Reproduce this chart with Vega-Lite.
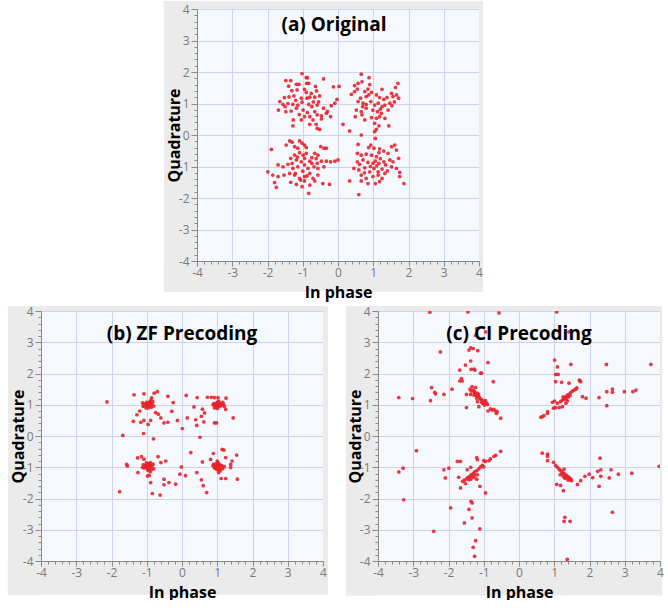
{
"$schema": "https://vega.github.io/schema/vega-lite/v6.json",
"background": "white",
"padding": {"left": 7, "top": 1, "right": 0, "bottom": 0},
"spacing": 5,
"datasets": {
"orig": [
{"x":-1.02,"y":1.95},{"x":-0.9,"y":1.82},{"x":-0.87,"y":1.82},{"x":-1.48,"y":1.73},{"x":-1.34,"y":1.73},{"x":-0.41,"y":1.78},{"x":-1.18,"y":1.61},{"x":-1.11,"y":1.61},{"x":-0.89,"y":1.64},{"x":-0.83,"y":1.64},{"x":-0.64,"y":1.54},{"x":-0.13,"y":1.53},{"x":0.03,"y":1.54},{"x":-1.31,"y":1.41},{"x":-1.16,"y":1.43},{"x":-0.9,"y":1.35},{"x":-0.76,"y":1.32},{"x":-0.61,"y":1.4},{"x":-1.52,"y":1.19},{"x":-1.39,"y":1.21},{"x":-1.25,"y":1.24},{"x":-1.04,"y":1.17},{"x":-0.88,"y":1.17},{"x":-0.8,"y":1.2},{"x":-0.66,"y":1.2},{"x":-0.52,"y":1.24},{"x":-1.65,"y":1.06},{"x":-1.56,"y":0.97},{"x":-1.42,"y":1.0},{"x":-1.28,"y":0.97},{"x":-1.14,"y":0.95},{"x":-1.02,"y":1.04},{"x":-0.83,"y":0.97},{"x":-0.74,"y":0.9},{"x":-0.59,"y":0.95},{"x":-0.41,"y":0.85},{"x":-0.19,"y":0.93},{"x":-0.03,"y":1.13},{"x":-0.09,"y":1.01},{"x":-1.69,"y":0.79},{"x":-1.48,"y":0.74},{"x":-1.33,"y":0.76},{"x":-1.18,"y":0.85},{"x":-0.99,"y":0.79},{"x":-0.87,"y":0.71},{"x":-0.66,"y":0.74},{"x":-0.95,"y":0.58},{"x":-0.8,"y":0.58},{"x":-0.59,"y":0.64},{"x":-0.47,"y":0.61},{"x":-0.33,"y":0.69},{"x":-0.21,"y":0.58},{"x":-1.27,"y":0.48},{"x":-1.04,"y":0.48},{"x":-0.71,"y":0.48},{"x":-0.8,"y":0.34},{"x":-0.62,"y":0.34},{"x":-0.47,"y":0.51},{"x":-1.28,"y":0.29},{"x":-0.59,"y":0.21},{"x":-0.52,"y":0.18},{"x":-1.2,"y":1.1},{"x":-0.7,"y":1.05},{"x":-0.95,"y":1.45},{"x":-1.4,"y":1.55},{"x":-0.55,"y":1.05},{"x":-1.1,"y":0.65},{"x":-0.3,"y":0.75},{"x":-1.5,"y":0.9},
{"x":0.66,"y":1.93},{"x":0.88,"y":1.82},{"x":0.68,"y":1.69},{"x":0.57,"y":1.64},{"x":0.47,"y":1.57},{"x":1.7,"y":1.64},{"x":1.63,"y":1.51},{"x":0.38,"y":1.29},{"x":0.47,"y":1.38},{"x":0.55,"y":1.46},{"x":0.76,"y":1.38},{"x":0.85,"y":1.46},{"x":0.95,"y":1.35},{"x":0.8,"y":1.22},{"x":0.87,"y":1.27},{"x":0.64,"y":1.17},{"x":1.09,"y":1.27},{"x":1.18,"y":1.19},{"x":1.3,"y":1.13},{"x":1.39,"y":1.19},{"x":1.52,"y":1.32},{"x":1.56,"y":1.22},{"x":1.66,"y":1.27},{"x":1.72,"y":1.17},{"x":0.57,"y":1.06},{"x":0.71,"y":1.01},{"x":0.8,"y":0.97},{"x":0.93,"y":1.06},{"x":1.04,"y":0.95},{"x":1.14,"y":1.01},{"x":1.25,"y":0.9},{"x":1.33,"y":0.95},{"x":1.47,"y":1.01},{"x":1.53,"y":0.93},{"x":1.42,"y":0.79},{"x":0.52,"y":0.79},{"x":0.66,"y":0.74},{"x":0.8,"y":0.85},{"x":0.99,"y":0.79},{"x":1.12,"y":0.74},{"x":1.23,"y":0.69},{"x":0.49,"y":0.58},{"x":0.68,"y":0.64},{"x":0.76,"y":0.48},{"x":0.95,"y":0.55},{"x":1.09,"y":0.53},{"x":1.18,"y":0.58},{"x":1.33,"y":0.53},{"x":1.04,"y":0.37},{"x":1.16,"y":0.29},{"x":1.44,"y":0.29},{"x":1.09,"y":0.18},{"x":1.04,"y":0.11},{"x":0.66,"y":0.0},{"x":0.33,"y":0.13},{"x":0.14,"y":0.34},{"x":1.06,"y":-0.11},{"x":0.9,"y":1.6},{"x":1.25,"y":1.45},{"x":0.7,"y":0.9},{"x":1.6,"y":1.05},{"x":1.2,"y":0.82},
{"x":-1.89,"y":-0.46},{"x":-1.37,"y":-0.19},{"x":-1.3,"y":-0.23},{"x":-1.09,"y":-0.19},{"x":-1.02,"y":-0.26},{"x":-0.95,"y":-0.32},{"x":-0.9,"y":-0.4},{"x":-1.47,"y":-0.32},{"x":-1.23,"y":-0.37},{"x":-1.14,"y":-0.42},{"x":-0.49,"y":-0.37},{"x":-0.4,"y":-0.42},{"x":-0.33,"y":-0.42},{"x":-0.66,"y":-0.58},{"x":-0.57,"y":-0.64},{"x":-0.74,"y":-0.72},{"x":-1.09,"y":-0.56},{"x":-0.99,"y":-0.64},{"x":-0.9,"y":-0.58},{"x":-1.23,"y":-0.64},{"x":-1.34,"y":-0.74},{"x":-1.18,"y":-0.79},{"x":-1.04,"y":-0.85},{"x":-0.95,"y":-0.74},{"x":-0.8,"y":-0.83},{"x":-0.74,"y":-0.9},{"x":-0.59,"y":-0.9},{"x":-0.47,"y":-0.83},{"x":-0.33,"y":-0.83},{"x":-0.21,"y":-0.85},{"x":-0.09,"y":-0.83},{"x":0.0,"y":-0.79},{"x":-1.7,"y":-0.95},{"x":-1.56,"y":-1.01},{"x":-1.42,"y":-0.93},{"x":-1.28,"y":-1.06},{"x":-1.14,"y":-1.01},{"x":-0.95,"y":-0.95},{"x":-0.85,"y":-1.06},{"x":-0.68,"y":-1.01},{"x":-0.57,"y":-1.06},{"x":-0.4,"y":-1.01},{"x":-1.99,"y":-1.17},{"x":-1.85,"y":-1.27},{"x":-1.7,"y":-1.32},{"x":-1.53,"y":-1.27},{"x":-1.37,"y":-1.22},{"x":-1.23,"y":-1.27},{"x":-1.09,"y":-1.38},{"x":-0.95,"y":-1.32},{"x":-0.8,"y":-1.22},{"x":-0.71,"y":-1.38},{"x":-0.57,"y":-1.27},{"x":-1.34,"y":-1.5},{"x":-1.18,"y":-1.57},{"x":-1.06,"y":-1.43},{"x":-0.95,"y":-1.46},{"x":-1.8,"y":-1.51},{"x":-1.75,"y":-1.66},{"x":-0.8,"y":-1.59},{"x":-0.66,"y":-1.46},{"x":-0.43,"y":-1.54},{"x":-0.24,"y":-1.57},{"x":-0.83,"y":-1.85},{"x":-1.02,"y":-1.64},{"x":-1.21,"y":-1.22},{"x":-1.0,"y":-1.15},{"x":-0.62,"y":-0.75},{"x":-1.3,"y":-0.9},{"x":-0.88,"y":-1.3},{"x":-1.15,"y":-0.7},
{"x":0.57,"y":-0.3},{"x":0.87,"y":-0.4},{"x":0.93,"y":-0.32},{"x":1.02,"y":-0.42},{"x":1.18,"y":-0.44},{"x":1.3,"y":-0.51},{"x":1.52,"y":-0.37},{"x":1.61,"y":-0.32},{"x":1.66,"y":-0.48},{"x":0.55,"y":-0.58},{"x":0.66,"y":-0.64},{"x":0.8,"y":-0.61},{"x":0.95,"y":-0.64},{"x":1.09,"y":-0.69},{"x":1.16,"y":-0.56},{"x":1.42,"y":-0.58},{"x":0.55,"y":-0.85},{"x":0.61,"y":-0.93},{"x":0.71,"y":-0.79},{"x":0.85,"y":-0.87},{"x":0.99,"y":-0.9},{"x":1.06,"y":-0.83},{"x":1.16,"y":-0.9},{"x":1.3,"y":-0.85},{"x":1.47,"y":-0.79},{"x":1.56,"y":-0.85},{"x":1.72,"y":-0.74},{"x":0.45,"y":-1.06},{"x":0.59,"y":-1.11},{"x":0.76,"y":-1.04},{"x":0.9,"y":-1.17},{"x":1.02,"y":-1.06},{"x":1.14,"y":-1.17},{"x":1.25,"y":-1.08},{"x":1.4,"y":-1.14},{"x":1.52,"y":-1.01},{"x":1.66,"y":-1.06},{"x":0.66,"y":-1.27},{"x":0.8,"y":-1.38},{"x":0.99,"y":-1.32},{"x":1.14,"y":-1.27},{"x":1.25,"y":-1.38},{"x":1.33,"y":-1.22},{"x":1.75,"y":-1.19},{"x":1.75,"y":-1.32},{"x":0.33,"y":-1.46},{"x":0.66,"y":-1.46},{"x":0.85,"y":-1.54},{"x":1.06,"y":-1.54},{"x":1.18,"y":-1.48},{"x":1.87,"y":-1.54},{"x":0.59,"y":-1.89},{"x":1.2,"y":-0.75},{"x":0.92,"y":-1.0},{"x":1.35,"y":-0.95},{"x":0.75,"y":-1.2},{"x":1.1,"y":-0.98}
],
"zf": [
{"x":-0.95,"y":1.0},{"x":-0.9,"y":1.02},{"x":-1.0,"y":0.98},{"x":-0.97,"y":1.05},{"x":-0.92,"y":0.95},{"x":-1.03,"y":1.03},{"x":-0.88,"y":0.98},{"x":-0.98,"y":0.93},{"x":-1.05,"y":0.97},{"x":-0.93,"y":1.08},{"x":-0.85,"y":1.04},{"x":-1.08,"y":1.01},{"x":-0.96,"y":0.9},{"x":-0.9,"y":1.1},{"x":-1.01,"y":1.08},{"x":-0.87,"y":0.92},{"x":-1.1,"y":0.95},{"x":-0.94,"y":0.97},{"x":-0.99,"y":1.01},{"x":-0.91,"y":1.0},{"x":-0.83,"y":1.1},{"x":-1.12,"y":1.06},{"x":-0.8,"y":0.96},{"x":-0.88,"y":1.15},{"x":-1.02,"y":0.9},
{"x":-2.13,"y":1.09},{"x":-1.36,"y":1.32},{"x":-1.08,"y":1.35},{"x":-0.79,"y":1.37},{"x":-0.7,"y":1.42},{"x":-0.86,"y":1.22},{"x":-0.4,"y":1.27},{"x":-0.25,"y":1.07},{"x":0.12,"y":1.3},{"x":-1.28,"y":0.68},{"x":-1.38,"y":0.47},{"x":-1.17,"y":0.44},{"x":-1.08,"y":0.5},{"x":-0.96,"y":0.37},{"x":-0.89,"y":0.5},{"x":-0.67,"y":0.7},{"x":-0.6,"y":0.58},{"x":-0.51,"y":0.42},{"x":-0.4,"y":0.44},{"x":-0.29,"y":0.79},{"x":-0.13,"y":0.5},{"x":0.01,"y":0.24},{"x":-1.09,"y":0.08},{"x":-0.81,"y":-0.09},{"x":-1.68,"y":0.02},{"x":-0.75,"y":0.75},{"x":-1.2,"y":0.8},
{"x":1.0,"y":1.0},{"x":0.95,"y":1.02},{"x":1.05,"y":0.98},{"x":0.98,"y":1.06},{"x":1.03,"y":0.94},{"x":0.93,"y":0.97},{"x":1.08,"y":1.03},{"x":0.97,"y":0.92},{"x":1.02,"y":1.09},{"x":0.9,"y":1.04},{"x":1.1,"y":0.96},{"x":1.0,"y":0.95},{"x":0.96,"y":0.99},{"x":1.06,"y":1.05},{"x":0.92,"y":0.9},{"x":1.12,"y":1.0},{"x":1.04,"y":1.12},{"x":0.88,"y":1.0},{"x":1.15,"y":1.08},{"x":1.0,"y":0.88},{"x":1.2,"y":0.95},{"x":1.18,"y":1.02},
{"x":0.43,"y":1.23},{"x":0.72,"y":1.24},{"x":0.83,"y":1.24},{"x":0.92,"y":1.23},{"x":1.02,"y":1.23},{"x":1.25,"y":1.21},{"x":0.34,"y":0.93},{"x":0.58,"y":0.86},{"x":0.64,"y":0.74},{"x":0.55,"y":0.63},{"x":0.15,"y":0.58},{"x":0.39,"y":0.52},{"x":0.62,"y":0.45},{"x":0.92,"y":0.42},{"x":0.98,"y":0.42},{"x":1.45,"y":0.58},{"x":0.42,"y":0.34},{"x":0.51,"y":-0.04},{"x":1.24,"y":0.85},
{"x":-0.95,"y":-0.97},{"x":-0.9,"y":-0.95},{"x":-1.0,"y":-1.0},{"x":-0.97,"y":-0.9},{"x":-0.92,"y":-1.03},{"x":-1.03,"y":-0.93},{"x":-0.88,"y":-1.0},{"x":-0.98,"y":-1.06},{"x":-1.05,"y":-0.98},{"x":-0.93,"y":-0.88},{"x":-0.85,"y":-0.94},{"x":-1.08,"y":-1.02},{"x":-0.96,"y":-1.1},{"x":-0.9,"y":-0.85},{"x":-1.01,"y":-0.86},{"x":-0.87,"y":-1.07},{"x":-1.1,"y":-0.92},{"x":-0.94,"y":-1.0},{"x":-0.99,"y":-0.96},{"x":-0.82,"y":-0.9},{"x":-1.12,"y":-1.0},{"x":-0.8,"y":-1.05},{"x":-0.9,"y":-1.14},
{"x":-1.26,"y":-0.7},{"x":-1.15,"y":-0.66},{"x":-1.08,"y":-0.74},{"x":-1.57,"y":-0.91},{"x":-1.55,"y":-0.96},{"x":-1.25,"y":-1.17},{"x":-0.93,"y":-1.26},{"x":-0.98,"y":-1.28},{"x":-0.89,"y":-1.49},{"x":-0.84,"y":-1.84},{"x":-0.68,"y":-0.66},{"x":-0.6,"y":-0.85},{"x":-0.46,"y":-0.8},{"x":-0.51,"y":-1.38},{"x":-0.51,"y":-1.56},{"x":-0.37,"y":-1.49},{"x":-0.18,"y":-1.54},{"x":-0.06,"y":-1.22},{"x":-0.02,"y":-0.99},{"x":0.1,"y":-1.27},{"x":0.25,"y":-0.53},{"x":-1.77,"y":-1.78},{"x":-0.62,"y":-1.89},
{"x":1.0,"y":-0.95},{"x":0.95,"y":-0.93},{"x":1.05,"y":-0.98},{"x":0.98,"y":-0.88},{"x":1.03,"y":-1.02},{"x":0.93,"y":-0.98},{"x":1.08,"y":-0.92},{"x":0.97,"y":-1.05},{"x":1.02,"y":-0.85},{"x":0.9,"y":-0.9},{"x":1.1,"y":-1.0},{"x":1.0,"y":-1.08},{"x":0.96,"y":-0.96},{"x":1.06,"y":-1.06},{"x":0.92,"y":-1.02},{"x":1.13,"y":-0.95},{"x":1.04,"y":-0.9},{"x":0.88,"y":-0.95},{"x":1.15,"y":-1.05},{"x":1.0,"y":-0.8},{"x":1.2,"y":-0.98},{"x":1.08,"y":-1.12},
{"x":0.89,"y":-0.56},{"x":1.14,"y":-0.43},{"x":1.19,"y":-0.45},{"x":0.58,"y":-0.83},{"x":0.81,"y":-0.75},{"x":1.24,"y":-0.69},{"x":1.42,"y":-0.8},{"x":1.55,"y":-0.61},{"x":1.38,"y":-0.91},{"x":1.38,"y":-1.01},{"x":0.42,"y":-1.17},{"x":0.55,"y":-1.4},{"x":0.6,"y":-1.59},{"x":0.7,"y":-1.81},{"x":1.11,"y":-1.36},{"x":1.24,"y":-1.36},{"x":1.57,"y":-1.38},{"x":1.04,"y":-1.17}
],
"ci": [
{"x":-2.53,"y":3.96},{"x":-1.45,"y":3.97},{"x":-0.57,"y":3.94},{"x":1.07,"y":3.97},{"x":-1.2,"y":3.44},{"x":-0.95,"y":3.33},{"x":1.42,"y":3.33},{"x":-1.23,"y":3.22},
{"x":-2.23,"y":2.69},{"x":-1.37,"y":2.82},{"x":-1.3,"y":2.8},{"x":-1.17,"y":2.73},{"x":-1.42,"y":2.75},{"x":-0.88,"y":2.35},{"x":-1.52,"y":2.27},{"x":-1.37,"y":2.4},{"x":-1.36,"y":2.13},{"x":-1.28,"y":2.14},{"x":-1.25,"y":2.11},{"x":-1.09,"y":2.01},{"x":-1.06,"y":2.01},{"x":-1.68,"y":2.11},{"x":-1.63,"y":1.84},{"x":-1.68,"y":1.76},{"x":-1.61,"y":1.76},{"x":-0.73,"y":1.74},{"x":-1.9,"y":1.5},{"x":-2.48,"y":1.55},{"x":-2.39,"y":1.4},{"x":-2.37,"y":1.35},{"x":-2.51,"y":1.13},{"x":-2.13,"y":1.33},{"x":-3.41,"y":1.23},{"x":-3.02,"y":1.2},
{"x":-1.39,"y":1.5},{"x":-1.36,"y":1.44},{"x":-1.3,"y":1.47},{"x":-1.26,"y":1.42},{"x":-1.23,"y":1.35},{"x":-1.18,"y":1.37},{"x":-1.17,"y":1.29},{"x":-1.14,"y":1.26},{"x":-1.11,"y":1.21},{"x":-1.2,"y":1.21},{"x":-1.04,"y":1.15},{"x":-1.0,"y":1.1},{"x":-0.95,"y":1.13},{"x":-0.92,"y":1.05},{"x":-1.03,"y":1.05},{"x":-0.9,"y":1.01},{"x":-0.98,"y":0.99},{"x":-0.81,"y":0.87},{"x":-0.76,"y":0.83},{"x":-0.71,"y":0.85},{"x":-0.66,"y":0.8},{"x":-0.62,"y":0.78},{"x":-0.64,"y":0.72},{"x":-0.52,"y":0.57},{"x":-0.88,"y":0.8},{"x":-1.37,"y":1.33},{"x":-1.28,"y":1.31},{"x":-1.49,"y":1.33},{"x":-1.18,"y":1.1},{"x":-1.49,"y":0.91},{"x":-1.14,"y":0.94},{"x":-1.09,"y":1.18},{"x":-1.33,"y":1.58},{"x":-1.23,"y":1.55},{"x":-1.27,"y":1.4},{"x":-1.22,"y":1.3},{"x":-1.15,"y":1.33},{"x":-1.06,"y":1.08},
{"x":0.62,"y":0.6},{"x":0.66,"y":0.62},{"x":0.71,"y":0.65},{"x":0.81,"y":0.73},{"x":0.81,"y":0.78},{"x":0.98,"y":0.89},{"x":1.04,"y":0.91},{"x":1.09,"y":1.05},{"x":1.18,"y":1.1},{"x":0.95,"y":1.08},{"x":1.01,"y":1.12},{"x":1.23,"y":1.15},{"x":1.28,"y":1.21},{"x":1.33,"y":1.26},{"x":1.37,"y":1.31},{"x":1.42,"y":1.33},{"x":1.47,"y":1.4},{"x":1.52,"y":1.44},{"x":1.56,"y":1.47},{"x":1.61,"y":1.5},{"x":1.64,"y":1.54},{"x":1.71,"y":1.79},{"x":1.73,"y":1.76},{"x":1.75,"y":1.74},{"x":1.37,"y":1.12},{"x":1.33,"y":1.05},{"x":1.14,"y":0.91},{"x":1.23,"y":0.94},{"x":1.3,"y":1.18},{"x":1.4,"y":1.25},{"x":1.45,"y":1.3},{"x":1.25,"y":1.25},{"x":1.35,"y":1.2},
{"x":1.01,"y":2.43},{"x":1.09,"y":2.21},{"x":1.04,"y":1.97},{"x":1.11,"y":1.97},{"x":1.47,"y":2.29},{"x":1.21,"y":1.72},{"x":1.42,"y":1.69},{"x":1.04,"y":1.74},{"x":1.8,"y":1.26},{"x":1.9,"y":1.21},{"x":2.27,"y":1.23},{"x":2.48,"y":2.29},{"x":2.49,"y":1.42},{"x":2.49,"y":0.97},{"x":2.65,"y":1.5},{"x":2.65,"y":1.4},{"x":2.99,"y":1.42},{"x":3.23,"y":1.42},{"x":3.32,"y":1.47},{"x":3.74,"y":2.29},
{"x":-0.52,"y":-0.49},{"x":-0.66,"y":-0.62},{"x":-0.71,"y":-0.65},{"x":-0.81,"y":-0.73},{"x":-0.85,"y":-0.79},{"x":-0.95,"y":-0.81},{"x":-1.0,"y":-0.79},{"x":-1.04,"y":-0.94},{"x":-1.09,"y":-0.99},{"x":-1.0,"y":-0.99},{"x":-1.14,"y":-1.05},{"x":-1.2,"y":-1.11},{"x":-1.26,"y":-1.15},{"x":-1.3,"y":-1.2},{"x":-1.36,"y":-1.24},{"x":-1.39,"y":-1.29},{"x":-1.45,"y":-1.32},{"x":-1.49,"y":-1.37},{"x":-1.55,"y":-1.41},{"x":-1.6,"y":-1.45},{"x":-1.37,"y":-1.38},{"x":-1.28,"y":-1.32},{"x":-1.52,"y":-1.52},{"x":-1.2,"y":-1.38},{"x":-1.18,"y":-1.24},{"x":-1.33,"y":-1.3},{"x":-1.42,"y":-1.4},{"x":-1.25,"y":-1.25},
{"x":-1.18,"y":-0.76},{"x":-1.2,"y":-0.69},{"x":-1.37,"y":-1.0},{"x":-1.47,"y":-1.08},{"x":-1.75,"y":-0.81},{"x":-1.66,"y":-0.81},{"x":-1.99,"y":-1.03},{"x":-2.13,"y":-1.08},{"x":-2.09,"y":-1.34},{"x":-1.71,"y":-1.32},{"x":-1.66,"y":-1.66},{"x":-1.11,"y":-1.61},{"x":-0.95,"y":-1.82},{"x":-1.36,"y":-2.09},{"x":-1.33,"y":-2.14},{"x":-1.42,"y":-2.35},{"x":-1.33,"y":-2.62},{"x":-1.55,"y":-2.78},{"x":-1.11,"y":-2.97},{"x":-1.23,"y":-3.35},{"x":-1.3,"y":-3.56},{"x":-1.26,"y":-3.85},{"x":-1.94,"y":-2.3},{"x":-2.42,"y":-3.05},{"x":-2.91,"y":-0.47},{"x":-3.41,"y":-1.15},{"x":-3.29,"y":-1.03},{"x":-3.27,"y":-2.04},
{"x":0.66,"y":-0.55},{"x":0.81,"y":-0.58},{"x":0.81,"y":-0.65},{"x":0.81,"y":-0.79},{"x":0.98,"y":-0.84},{"x":1.04,"y":-0.94},{"x":1.09,"y":-1.0},{"x":1.14,"y":-1.06},{"x":1.18,"y":-1.11},{"x":1.23,"y":-1.15},{"x":1.28,"y":-1.2},{"x":1.33,"y":-1.24},{"x":1.37,"y":-1.28},{"x":1.42,"y":-1.32},{"x":1.47,"y":-1.37},{"x":1.49,"y":-1.43},{"x":1.36,"y":-1.35},{"x":1.26,"y":-1.29},{"x":1.39,"y":-1.41},{"x":1.28,"y":-1.06},{"x":1.17,"y":-1.24},{"x":1.32,"y":-1.3},{"x":1.44,"y":-1.4},{"x":1.3,"y":-1.35},{"x":1.22,"y":-1.2},
{"x":1.07,"y":-1.55},{"x":1.18,"y":-1.58},{"x":1.26,"y":-1.75},{"x":1.66,"y":-1.55},{"x":1.75,"y":-1.43},{"x":1.87,"y":-1.29},{"x":1.99,"y":-1.22},{"x":2.09,"y":-1.33},{"x":2.23,"y":-1.13},{"x":2.32,"y":-1.08},{"x":2.3,"y":-0.71},{"x":2.32,"y":-1.29},{"x":2.27,"y":-1.61},{"x":2.61,"y":-1.08},{"x":2.56,"y":-1.34},{"x":2.82,"y":-1.22},{"x":3.2,"y":-1.19},{"x":3.98,"y":-0.97},{"x":2.65,"y":-2.44},{"x":1.3,"y":-2.6},{"x":1.28,"y":-2.73},{"x":1.45,"y":-2.73},{"x":1.37,"y":-3.95}
]
},
"vconcat": [
{"spacing": 0, "hconcat": [
{"width": 122, "height": 10, "data": {"values": []}, "mark": "point", "view": {"stroke": null, "fill": null}},
{"width": 282, "height": 252, "view": {"fill": "#f5f8fd", "stroke": null},
 "title": {"text": "(a) Original", "offset": -34, "dx": -4},
 "resolve": {"axis": {"x": "independent", "y": "independent"}},
 "layer": [
  {"data": {"name": "orig"}, "mark": {"type": "circle", "size": 14, "color": "#e8222b", "opacity": 0.9},
   "encoding": {
    "x": {"field": "x", "type": "quantitative", "scale": {"domain": [-4, 4]}, "axis": {"title": "In phase", "titlePadding": 6, "labelPadding": 1, "orient": "bottom", "zindex": 1, "grid": false, "values": [-4,-3,-2,-1,0,1,2,3,4], "labelExpr": "''+datum.value", "labelOverlap": false, "labelFlush": false, "tickSize": 5}},
    "y": {"field": "y", "type": "quantitative", "scale": {"domain": [-4, 4]}, "axis": {"title": "Quadrature", "titlePadding": -4, "orient": "left", "zindex": 1, "grid": false, "values": [-4,-3,-2,-1,0,1,2,3,4], "labelExpr": "''+datum.value", "labelOverlap": false, "labelFlush": false, "tickSize": 6}}
   }},
  {"data": {"values": [{}]}, "mark": {"type": "rect", "color": "#ebebeb"}, "encoding": {
    "x": {"datum": -4.94, "type": "quantitative", "scale": {"domain": [-4, 4]}, "axis": {"title": null, "orient": "bottom", "zindex": 1, "grid": false, "domain": false, "labels": false, "tickSize": 3, "values": [-3.8,-3.6,-3.4,-3.2,-2.8,-2.6,-2.4,-2.2,-1.8,-1.6,-1.4,-1.2,-0.8,-0.6,-0.4,-0.2,0.2,0.4,0.6,0.8,1.2,1.4,1.6,1.8,2.2,2.4,2.6,2.8,3.2,3.4,3.6,3.8]}},
    "x2": {"datum": -4},
    "y": {"datum": -4.98, "type": "quantitative", "scale": {"domain": [-4, 4]}, "axis": {"title": null, "orient": "left", "zindex": 1, "grid": false, "domain": false, "labels": false, "tickSize": 3, "values": [-3.8,-3.6,-3.4,-3.2,-2.8,-2.6,-2.4,-2.2,-1.8,-1.6,-1.4,-1.2,-0.8,-0.6,-0.4,-0.2,0.2,0.4,0.6,0.8,1.2,1.4,1.6,1.8,2.2,2.4,2.6,2.8,3.2,3.4,3.6,3.8]}},
    "y2": {"datum": 4.25}}},
  {"data": {"values": [{}]}, "mark": {"type": "rect", "color": "#ebebeb"}, "encoding": {
    "x": {"datum": 4, "type": "quantitative", "scale": {"domain": [-4, 4]}, "axis": {"title": null, "orient": "bottom", "zindex": 0, "grid": true, "domain": false, "labels": false, "ticks": false, "values": [-4,-3,-2,-1,0,1,2,3,4]}},
    "x2": {"datum": 4.11},
    "y": {"datum": -4.98, "type": "quantitative", "scale": {"domain": [-4, 4]}, "axis": {"title": null, "orient": "left", "zindex": 0, "grid": true, "domain": false, "labels": false, "ticks": false, "values": [-4,-3,-2,-1,0,1,2,3,4]}},
    "y2": {"datum": 4.25}}},
  {"data": {"values": [{}]}, "mark": {"type": "rect", "color": "#ebebeb"}, "encoding": {"x": {"datum": -4.94, "type": "quantitative", "scale": {"domain": [-4, 4]}, "axis": null}, "x2": {"datum": 4.11}, "y": {"datum": 4, "type": "quantitative", "scale": {"domain": [-4, 4]}, "axis": null}, "y2": {"datum": 4.25}}},
  {"data": {"values": [{}]}, "mark": {"type": "rect", "color": "#ebebeb"}, "encoding": {"x": {"datum": -4.94, "type": "quantitative", "scale": {"domain": [-4, 4]}, "axis": null}, "x2": {"datum": 4.11}, "y": {"datum": -4.98, "type": "quantitative", "scale": {"domain": [-4, 4]}, "axis": null}, "y2": {"datum": -4}}}
 ]}
]},
{"spacing": 17, "hconcat": [
{"width": 282, "height": 250, "view": {"fill": "#f5f8fd", "stroke": null},
 "title": {"text": "(b) ZF Precoding", "offset": -39},
 "resolve": {"axis": {"x": "independent", "y": "independent"}},
 "layer": [
  {"data": {"name": "zf"}, "mark": {"type": "circle", "size": 14, "color": "#e8222b", "opacity": 0.9},
   "encoding": {
    "x": {"field": "x", "type": "quantitative", "scale": {"domain": [-4, 4]}, "axis": {"title": "In phase", "titlePadding": 6, "labelPadding": 1, "orient": "bottom", "zindex": 1, "grid": false, "values": [-4,-3,-2,-1,0,1,2,3,4], "labelExpr": "''+datum.value", "labelOverlap": false, "labelFlush": false, "tickSize": 5}},
    "y": {"field": "y", "type": "quantitative", "scale": {"domain": [-4, 4]}, "axis": {"title": "Quadrature", "titlePadding": -4, "orient": "left", "zindex": 1, "grid": false, "values": [-4,-3,-2,-1,0,1,2,3,4], "labelExpr": "''+datum.value", "labelOverlap": false, "labelFlush": false, "tickSize": 6}}
   }},
  {"data": {"values": [{}]}, "mark": {"type": "rect", "color": "#ebebeb"}, "encoding": {
    "x": {"datum": -4.94, "type": "quantitative", "scale": {"domain": [-4, 4]}, "axis": {"title": null, "orient": "bottom", "zindex": 1, "grid": false, "domain": false, "labels": false, "tickSize": 3, "values": [-3.8,-3.6,-3.4,-3.2,-2.8,-2.6,-2.4,-2.2,-1.8,-1.6,-1.4,-1.2,-0.8,-0.6,-0.4,-0.2,0.2,0.4,0.6,0.8,1.2,1.4,1.6,1.8,2.2,2.4,2.6,2.8,3.2,3.4,3.6,3.8]}},
    "x2": {"datum": -4},
    "y": {"datum": -5.08, "type": "quantitative", "scale": {"domain": [-4, 4]}, "axis": {"title": null, "orient": "left", "zindex": 1, "grid": false, "domain": false, "labels": false, "tickSize": 3, "values": [-3.8,-3.6,-3.4,-3.2,-2.8,-2.6,-2.4,-2.2,-1.8,-1.6,-1.4,-1.2,-0.8,-0.6,-0.4,-0.2,0.2,0.4,0.6,0.8,1.2,1.4,1.6,1.8,2.2,2.4,2.6,2.8,3.2,3.4,3.6,3.8]}},
    "y2": {"datum": 4.16}}},
  {"data": {"values": [{}]}, "mark": {"type": "rect", "color": "#ebebeb"}, "encoding": {
    "x": {"datum": 4, "type": "quantitative", "scale": {"domain": [-4, 4]}, "axis": {"title": null, "orient": "bottom", "zindex": 0, "grid": true, "domain": false, "labels": false, "ticks": false, "values": [-4,-3,-2,-1,0,1,2,3,4]}},
    "x2": {"datum": 4.14},
    "y": {"datum": -5.08, "type": "quantitative", "scale": {"domain": [-4, 4]}, "axis": {"title": null, "orient": "left", "zindex": 0, "grid": true, "domain": false, "labels": false, "ticks": false, "values": [-4,-3,-2,-1,0,1,2,3,4]}},
    "y2": {"datum": 4.16}}},
  {"data": {"values": [{}]}, "mark": {"type": "rect", "color": "#ebebeb"}, "encoding": {"x": {"datum": -4.94, "type": "quantitative", "scale": {"domain": [-4, 4]}, "axis": null}, "x2": {"datum": 4.14}, "y": {"datum": 4, "type": "quantitative", "scale": {"domain": [-4, 4]}, "axis": null}, "y2": {"datum": 4.16}}},
  {"data": {"values": [{}]}, "mark": {"type": "rect", "color": "#ebebeb"}, "encoding": {"x": {"datum": -4.94, "type": "quantitative", "scale": {"domain": [-4, 4]}, "axis": null}, "x2": {"datum": 4.14}, "y": {"datum": -5.08, "type": "quantitative", "scale": {"domain": [-4, 4]}, "axis": null}, "y2": {"datum": -4}}}
 ]},
{"width": 282, "height": 250, "view": {"fill": "#f5f8fd", "stroke": null},
 "title": {"text": "(c) CI Precoding", "offset": -39},
 "resolve": {"axis": {"x": "independent", "y": "independent"}},
 "layer": [
  {"data": {"name": "ci"}, "mark": {"type": "circle", "size": 14, "color": "#e8222b", "opacity": 0.9},
   "encoding": {
    "x": {"field": "x", "type": "quantitative", "scale": {"domain": [-4, 4]}, "axis": {"title": "In phase", "titlePadding": 6, "labelPadding": 1, "orient": "bottom", "zindex": 1, "grid": false, "values": [-4,-3,-2,-1,0,1,2,3,4], "labelExpr": "''+datum.value", "labelOverlap": false, "labelFlush": false, "tickSize": 5}},
    "y": {"field": "y", "type": "quantitative", "scale": {"domain": [-4, 4]}, "axis": {"title": "Quadrature", "titlePadding": -4, "orient": "left", "zindex": 1, "grid": false, "values": [-4,-3,-2,-1,0,1,2,3,4], "labelExpr": "''+datum.value", "labelOverlap": false, "labelFlush": false, "tickSize": 6}}
   }},
  {"data": {"values": [{}]}, "mark": {"type": "rect", "color": "#ebebeb"}, "encoding": {
    "x": {"datum": -4.91, "type": "quantitative", "scale": {"domain": [-4, 4]}, "axis": {"title": null, "orient": "bottom", "zindex": 1, "grid": false, "domain": false, "labels": false, "tickSize": 3, "values": [-3.8,-3.6,-3.4,-3.2,-2.8,-2.6,-2.4,-2.2,-1.8,-1.6,-1.4,-1.2,-0.8,-0.6,-0.4,-0.2,0.2,0.4,0.6,0.8,1.2,1.4,1.6,1.8,2.2,2.4,2.6,2.8,3.2,3.4,3.6,3.8]}},
    "x2": {"datum": -4},
    "y": {"datum": -5.1, "type": "quantitative", "scale": {"domain": [-4, 4]}, "axis": {"title": null, "orient": "left", "zindex": 1, "grid": false, "domain": false, "labels": false, "tickSize": 3, "values": [-3.8,-3.6,-3.4,-3.2,-2.8,-2.6,-2.4,-2.2,-1.8,-1.6,-1.4,-1.2,-0.8,-0.6,-0.4,-0.2,0.2,0.4,0.6,0.8,1.2,1.4,1.6,1.8,2.2,2.4,2.6,2.8,3.2,3.4,3.6,3.8]}},
    "y2": {"datum": 4.16}}},
  {"data": {"values": [{}]}, "mark": {"type": "rect", "color": "#ebebeb"}, "encoding": {
    "x": {"datum": 4, "type": "quantitative", "scale": {"domain": [-4, 4]}, "axis": {"title": null, "orient": "bottom", "zindex": 0, "grid": true, "domain": false, "labels": false, "ticks": false, "values": [-4,-3,-2,-1,0,1,2,3,4]}},
    "x2": {"datum": 4.06},
    "y": {"datum": -5.1, "type": "quantitative", "scale": {"domain": [-4, 4]}, "axis": {"title": null, "orient": "left", "zindex": 0, "grid": true, "domain": false, "labels": false, "ticks": false, "values": [-4,-3,-2,-1,0,1,2,3,4]}},
    "y2": {"datum": 4.16}}},
  {"data": {"values": [{}]}, "mark": {"type": "rect", "color": "#ebebeb"}, "encoding": {"x": {"datum": -4.91, "type": "quantitative", "scale": {"domain": [-4, 4]}, "axis": null}, "x2": {"datum": 4.06}, "y": {"datum": 4, "type": "quantitative", "scale": {"domain": [-4, 4]}, "axis": null}, "y2": {"datum": 4.16}}},
  {"data": {"values": [{}]}, "mark": {"type": "rect", "color": "#ebebeb"}, "encoding": {"x": {"datum": -4.91, "type": "quantitative", "scale": {"domain": [-4, 4]}, "axis": null}, "x2": {"datum": 4.06}, "y": {"datum": -5.1, "type": "quantitative", "scale": {"domain": [-4, 4]}, "axis": null}, "y2": {"datum": -4}}}
 ]}
]}
],
"config": {
 "font": "Open Sans",
 "view": {"stroke": null},
 "axis": {"domainColor": "#8a8a8a", "tickColor": "#8a8a8a", "gridColor": "#cdd3ea", "gridWidth": 1, "labelColor": "#7a7a7a", "labelFontSize": 12, "labelFont": "Open Sans", "labelPadding": 2, "titleFont": "Open Sans", "titleFontSize": 16, "titleFontWeight": "bold", "titleColor": "#000000", "domainWidth": 1, "tickWidth": 1},
 "title": {"font": "Open Sans", "fontSize": 19, "fontWeight": "bold", "color": "#000000", "frame": "group", "anchor": "middle"}
}
}
